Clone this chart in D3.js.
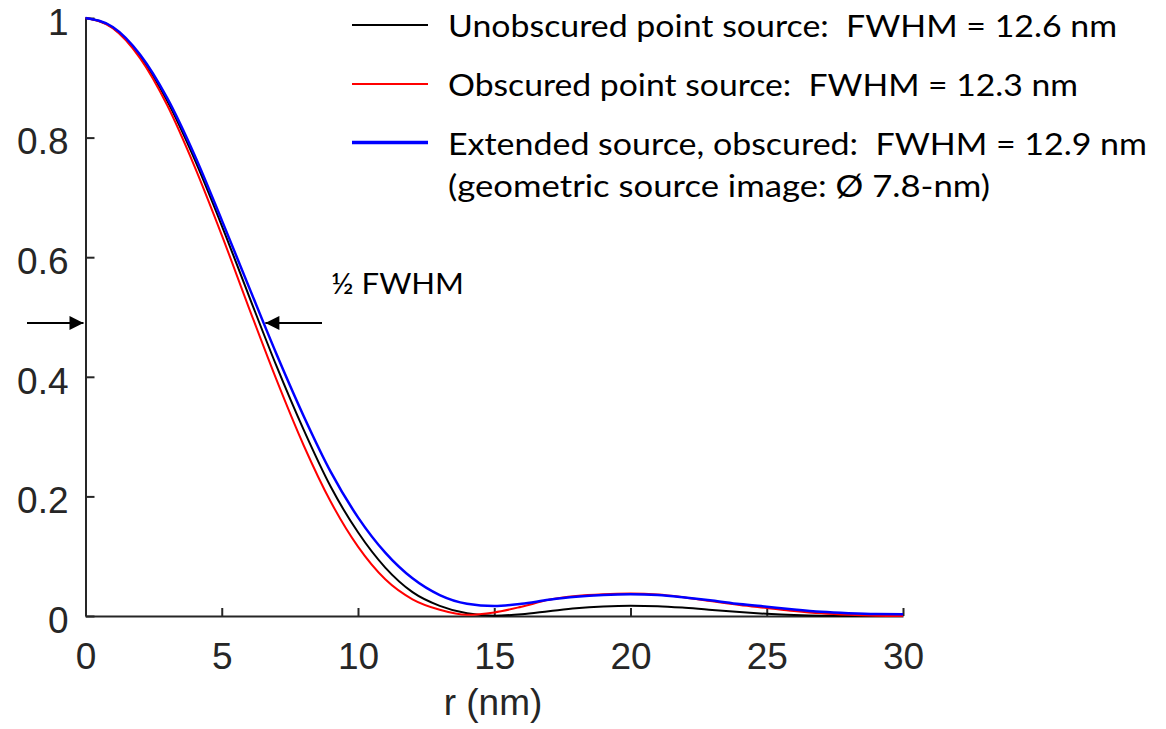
<!DOCTYPE html>
<html>
<head>
<meta charset="utf-8">
<script src="https://cdn.jsdelivr.net/npm/d3@7"></script>
<style>
  html, body { margin: 0; padding: 0; background: #fff; }
  svg { display: block; }
</style>
</head>
<body>
<div id="chart"></div>
<script>
// radial distance (nm)
const rNm = [0, 1, 2, 3, 4, 5, 6, 7, 8, 9, 10, 11, 12, 13, 14, 15, 16, 17, 18, 19, 20,
  21, 22, 23, 24, 25, 26, 27, 28, 29, 30];

// normalised intensity
const unobscured = [1, 0.984, 0.936, 0.861, 0.764, 0.653, 0.535, 0.419, 0.312, 0.216, 0.140,
  0.081, 0.040, 0.017, 0.0045, 0.0005, 0.003, 0.008, 0.013, 0.016, 0.0173,
  0.0165, 0.0138, 0.0102, 0.0065, 0.0036, 0.0015, 0.0004, 0.0002, 0.0003, 0.0005];
const obscured = [1, 0.983, 0.933, 0.854, 0.752, 0.637, 0.515, 0.396, 0.286, 0.191, 0.116,
  0.0614, 0.028, 0.0105, 0.002, 0.006, 0.0155, 0.027, 0.0335, 0.0365, 0.0375,
  0.036, 0.031, 0.0245, 0.0185, 0.0135, 0.0085, 0.0045, 0.002, 0.0006, 0.0001];
const extended = [1, 0.985, 0.939, 0.866, 0.771, 0.662, 0.550, 0.439, 0.335, 0.241, 0.165,
  0.106, 0.063, 0.035, 0.0205, 0.0167, 0.0205, 0.027, 0.032, 0.035, 0.0362,
  0.035, 0.031, 0.026, 0.020, 0.0155, 0.011, 0.0072, 0.0048, 0.0033, 0.003];

const seriesNames = [
  "Unobscured point source:  FWHM = 12.6 nm",
  "Obscured point source:  FWHM = 12.3 nm",
  "Extended source, obscured:  FWHM = 12.9 nm"
];
const legendNote = "(geometric source image: \u00D8 7.8-nm)";
const xTicks = [0, 5, 10, 15, 20, 25, 30];
const yTicks = [0, 0.2, 0.4, 0.6, 0.8, 1];

// half-max marker
const halfLevel = 0.49;
const halfWidth = 6.6;

const width = 1166, height = 729;
const axisColor = "#262626";
const tickFont = "'Liberation Sans', Arial, sans-serif";

const svg = d3.select("#chart").append("svg")
    .attr("width", width)
    .attr("height", height);

const x = d3.scaleLinear().domain([0, 30]).range([85.5, 903]);
const y = d3.scaleLinear().domain([0, 1]).range([616, 18]);

//axes, ticks pointing inwards like matlab
const xAxis = svg.append("g")
    .attr("transform", `translate(0,${y(0)})`)
    .call(d3.axisBottom(x).tickValues(xTicks).tickSizeInner(-8).tickSizeOuter(0).tickPadding(27));
const yAxis = svg.append("g")
    .attr("transform", `translate(${x(0)},0)`)
    .call(d3.axisLeft(y).tickValues(yTicks).tickFormat(d3.format("~g")).tickSizeInner(-9).tickSizeOuter(0).tickPadding(17));

[xAxis, yAxis].forEach((g) => {
  g.select(".domain").attr("stroke", axisColor).attr("stroke-width", 2);
  g.selectAll(".tick line").attr("stroke", axisColor).attr("stroke-width", 2);
  g.selectAll(".tick text")
      .attr("fill", axisColor)
      .style("font-family", tickFont)
      .style("font-size", "37px");
});
xAxis.selectAll(".tick text").attr("dy", "0.71em");
yAxis.selectAll(".tick text").attr("dy", "0.44em");

svg.append("text")
    .attr("x", 493)
    .attr("y", 715)
    .attr("text-anchor", "middle")
    .attr("fill", axisColor)
    .style("font-family", tickFont)
    .style("font-size", "37px")
    .text("r (nm)");

// curves
const series = [
  { values: unobscured, color: "#000000", w: 2 },
  { values: obscured, color: "#ff0000", w: 2 },
  { values: extended, color: "#0000ff", w: 2.5 }
];

const line = d3.line()
    .x((d) => x(d[0]))
    .y((d) => y(d[1]))
    .curve(d3.curveMonotoneX);

svg.selectAll(".curve")
    .data(series)
    .enter()
    .append("path")
    .attr("class", "curve")
    .attr("fill", "none")
    .attr("stroke", (d) => d.color)
    .attr("stroke-width", (d) => d.w)
    .attr("stroke-linejoin", "round")
    .attr("d", (d) => line(rNm.map((r, i) => [r, d.values[i]])));

// legend
const legendFont = "Lato, 'Open Sans', sans-serif";
const legendRows = [25, 84, 142.5];
const legendWidths = [669, 630, 699];

const legend = svg.append("g");
series.forEach((s, i) => {
  legend.append("line")
      .attr("x1", 352).attr("x2", 428)
      .attr("y1", legendRows[i]).attr("y2", legendRows[i])
      .attr("stroke", s.color)
      .attr("stroke-width", i === 2 ? 3.5 : 2);
  legend.append("text")
      .attr("x", 448)
      .attr("y", legendRows[i] + 12)
      .attr("textLength", legendWidths[i])
      .attr("lengthAdjust", "spacingAndGlyphs")
      .style("white-space", "pre")
      .style("font-family", legendFont)
      .style("font-size", "30px")
      .attr("fill", "#000")
      .text(seriesNames[i]);
});
legend.append("text")
    .attr("x", 448)
    .attr("y", 197)
    .attr("textLength", 542)
    .attr("lengthAdjust", "spacingAndGlyphs")
    .style("font-family", legendFont)
    .style("font-size", "30px")
    .attr("fill", "#000")
    .text(legendNote);

// half-width annotation
const defs = svg.append("defs");
defs.append("marker")
    .attr("id", "head")
    .attr("viewBox", "0 0 10 10")
    .attr("refX", 10).attr("refY", 5)
    .attr("markerWidth", 15).attr("markerHeight", 14)
    .attr("markerUnits", "userSpaceOnUse")
    .attr("orient", "auto")
    .append("path")
    .attr("d", "M0,0L10,5L0,10Z")
    .attr("fill", "#000");

svg.append("line")
    .attr("x1", 27).attr("x2", x(0) - 2)
    .attr("y1", y(halfLevel)).attr("y2", y(halfLevel))
    .attr("stroke", "#000").attr("stroke-width", 2)
    .attr("marker-end", "url(#head)");
svg.append("line")
    .attr("x1", 322).attr("x2", x(halfWidth))
    .attr("y1", y(halfLevel)).attr("y2", y(halfLevel))
    .attr("stroke", "#000").attr("stroke-width", 2)
    .attr("marker-end", "url(#head)");
svg.append("text")
    .attr("x", 331)
    .attr("y", 294)
    .attr("textLength", 133)
    .attr("lengthAdjust", "spacingAndGlyphs")
    .style("font-family", legendFont)
    .style("font-size", "29px")
    .attr("fill", "#000")
    .text("\u00BD FWHM");
</script>
</body>
</html>
